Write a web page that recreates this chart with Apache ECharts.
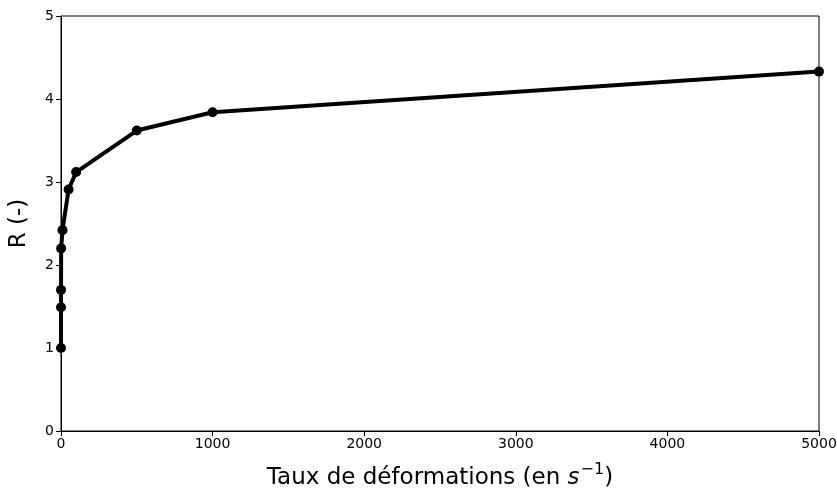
<!DOCTYPE html>
<html>
<head>
<meta charset="utf-8">
<script src="https://cdn.jsdelivr.net/npm/echarts@6/dist/echarts.min.js"></script>
<style>
  html, body { margin: 0; padding: 0; background: #fff; }
  #chart { width: 837px; height: 491px; }
</style>
</head>
<body>
<div id="chart"></div>
<script>
// strain rates (s^-1) and R values
const rates = [0.001, 0.01, 0.1, 1, 10, 50, 100, 500, 1000, 5000];
const rValues = [1.0, 1.49, 1.7, 2.2, 2.42, 2.91, 3.12, 3.62, 3.84, 4.33];
const xTicks = [0, 1000, 2000, 3000, 4000, 5000];
const yTicks = [0, 1, 2, 3, 4, 5];

document.addEventListener("DOMContentLoaded", function () {
  const chart = echarts.init(document.getElementById("chart"));
  const font = "DejaVu Sans";
  const points = rates.map((r, i) => [r, rValues[i]]);

  const option = {
    animation: false,
    grid: {
      left: 61, right: 18, top: 16, bottom: 60,
      outerBoundsMode: "none",
      containLabel: false,
      show: true, borderColor: "#000", borderWidth: 1
    },
    xAxis: {
      type: "value",
      min: xTicks[0], max: xTicks[xTicks.length - 1], interval: 1000,
      axisLine: { lineStyle: { color: "#000" } },
      axisTick: { show: true, length: 5, lineStyle: { color: "#000" } },
      axisLabel: {
        color: "#000", fontFamily: font, fontSize: 14, margin: 6,
        formatter: (v) => String(v)
      },
      splitLine: { show: false },
      name: "Taux de déformations (en {i|s}{sup|−1})",
      nameLocation: "middle",
      nameGap: 31,
      nameTextStyle: {
        color: "#000", fontFamily: font, fontSize: 23,
        rich: {
          i: { fontFamily: font, fontStyle: "italic", fontSize: 23, color: "#000" },
          sup: { fontFamily: font, fontSize: 16, color: "#000", verticalAlign: "top", padding: [0, 0, 16, 1] }
        }
      }
    },
    yAxis: {
      type: "value",
      min: yTicks[0], max: yTicks[yTicks.length - 1], interval: 1,
      axisLine: { show: true, lineStyle: { color: "#000" } },
      axisTick: { show: true, length: 5, lineStyle: { color: "#000" } },
      axisLabel: { color: "#000", fontFamily: font, fontSize: 14, margin: 7 },
      splitLine: { show: false },
      name: "R (-)",
      nameLocation: "middle",
      nameGap: 30,
      nameTextStyle: { color: "#000", fontFamily: font, fontSize: 23 }
    },
    series: [{
      type: "line",
      data: points,
      clip: true,
      symbol: "circle",
      symbolSize: 10,
      itemStyle: { color: "#000" },
      lineStyle: { color: "#000", width: 4 }
    }]
  };
  chart.setOption(option);
});
</script>
</body>
</html>
